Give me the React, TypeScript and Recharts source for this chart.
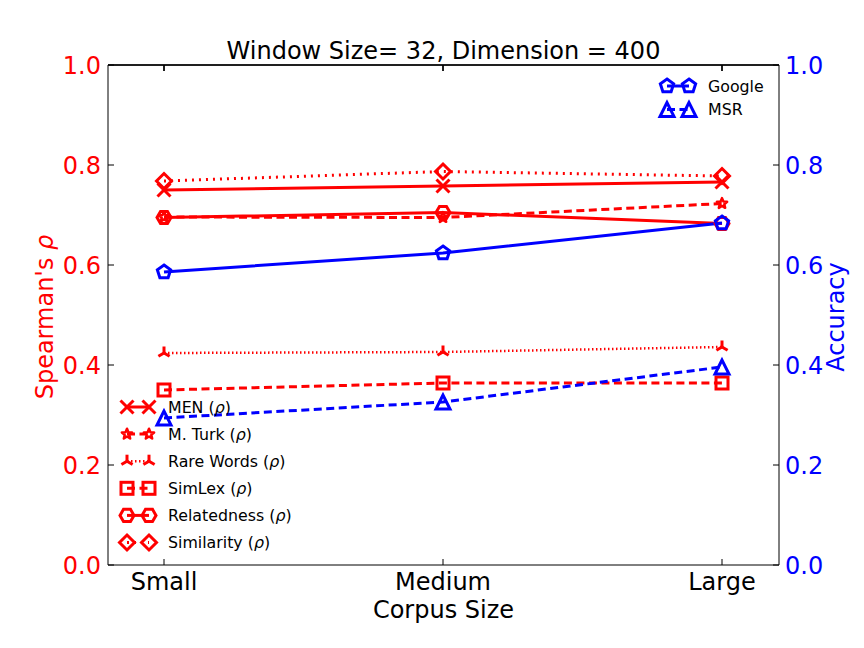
import React from 'react';
import { LineChart, Line, XAxis, YAxis, ReferenceLine } from 'recharts';

const categories = ['Small', 'Medium', 'Large'];
const menValues = [0.75, 0.758, 0.766];
const mturkValues = [0.696, 0.695, 0.723];
const rareWordsValues = [0.424, 0.426, 0.436];
const simlexValues = [0.35, 0.364, 0.364];
const relatednessValues = [0.695, 0.705, 0.683];
const similarityValues = [0.768, 0.787, 0.778];
const googleValues = [0.586, 0.624, 0.684];
const msrValues = [0.294, 0.326, 0.396];
const leftTicks = [0, 0.2, 0.4, 0.6, 0.8, 1.0];
const rightTicks = [0, 0.2, 0.4, 0.6, 0.8, 1.0];
const Y_MAX = 1.0;
const TOP_TICK_LEN = 0.012;

const RED = '#ff0000';
const BLUE = '#0000ff';
const FONT = "'DejaVu Sans', sans-serif";

// layout constants (pixels)
const W = 864;
const H = 648;
const LEFT_W = 108;
const RIGHT_W = 85;
const TOP = 65;
const PAD_L = 56;
const PAD_R = 57;

type MarkerType = 'x' | 'star' | 'tri' | 'square' | 'hexagon' | 'diamond' | 'pentagon' | 'triangle';

interface Series {
  key: string;
  name: string;
  values: number[];
  color: string;
  axis: 'left' | 'right';
  dash?: string;
  width: number;
  marker: MarkerType;
  rho: boolean;
}

const series: Series[] = [
  { key: 'men', name: 'MEN', values: menValues, color: RED, axis: 'left', width: 3, marker: 'x', rho: true },
  { key: 'mturk', name: 'M. Turk', values: mturkValues, color: RED, axis: 'left', dash: '8 4.5', width: 3, marker: 'star', rho: true },
  { key: 'rare', name: 'Rare Words', values: rareWordsValues, color: RED, axis: 'left', dash: '1.5 2.5', width: 2.5, marker: 'tri', rho: true },
  { key: 'simlex', name: 'SimLex', values: simlexValues, color: RED, axis: 'left', dash: '8 4.5', width: 3, marker: 'square', rho: true },
  { key: 'related', name: 'Relatedness', values: relatednessValues, color: RED, axis: 'left', width: 3, marker: 'hexagon', rho: true },
  { key: 'similar', name: 'Similarity', values: similarityValues, color: RED, axis: 'left', dash: '2 5', width: 3, marker: 'diamond', rho: true },
  { key: 'google', name: 'Google', values: googleValues, color: BLUE, axis: 'right', width: 3, marker: 'pentagon', rho: false },
  { key: 'msr', name: 'MSR', values: msrValues, color: BLUE, axis: 'right', dash: '8 4.5', width: 3, marker: 'triangle', rho: false },
];

const data = categories.map((name, i) => {
  const row: Record<string, number | string> = { name };
  series.forEach((s) => {
    row[s.key] = s.values[i];
  });
  return row;
});

function polygon(cx: number, cy: number, r: number, n: number, startDeg: number): string {
  const pts: string[] = [];
  for (let k = 0; k < n; k++) {
    const a = ((startDeg + (360 / n) * k) * Math.PI) / 180;
    pts.push(`${cx + r * Math.cos(a)},${cy + r * Math.sin(a)}`);
  }
  return pts.join(' ');
}

function starPoints(cx: number, cy: number, ro: number, ri: number): string {
  const pts: string[] = [];
  for (let k = 0; k < 10; k++) {
    const r = k % 2 === 0 ? ro : ri;
    const a = ((-90 + 36 * k) * Math.PI) / 180;
    pts.push(`${cx + r * Math.cos(a)},${cy + r * Math.sin(a)}`);
  }
  return pts.join(' ');
}

function Marker({ type, cx, cy, color }: { type: MarkerType; cx: number; cy: number; color: string }) {
  const common = { fill: 'none', stroke: color, strokeWidth: 3, strokeLinejoin: 'miter' as const };
  switch (type) {
    case 'x':
      return (
        <g>
          <line x1={cx - 6.5} y1={cy - 6.5} x2={cx + 6.5} y2={cy + 6.5} stroke={color} strokeWidth={3} />
          <line x1={cx - 6.5} y1={cy + 6.5} x2={cx + 6.5} y2={cy - 6.5} stroke={color} strokeWidth={3} />
        </g>
      );
    case 'star':
      return <polygon points={starPoints(cx, cy, 5.4, 2.4)} fill="none" stroke={color} strokeWidth={2.5} strokeLinejoin="round" />;
    case 'tri':
      return (
        <g>
          <line x1={cx} y1={cy} x2={cx} y2={cy - 6.5} stroke={color} strokeWidth={3} />
          <line x1={cx} y1={cy} x2={cx - 5.6} y2={cy + 3.25} stroke={color} strokeWidth={3} />
          <line x1={cx} y1={cy} x2={cx + 5.6} y2={cy + 3.25} stroke={color} strokeWidth={3} />
        </g>
      );
    case 'square':
      return <rect x={cx - 6} y={cy - 6} width={12} height={12} {...common} />;
    case 'hexagon':
      return <polygon points={polygon(cx, cy, 7, 6, 0)} {...common} />;
    case 'diamond':
      return <polygon points={polygon(cx, cy, 7.5, 4, -90)} {...common} />;
    case 'pentagon':
      return <polygon points={polygon(cx, cy, 7, 5, -90)} {...common} />;
    case 'triangle':
      return <polygon points={`${cx},${cy - 7} ${cx - 7},${cy + 7} ${cx + 7},${cy + 7}`} {...common} />;
    default:
      return null;
  }
}

const LeftTick = (props: any) => {
  const { x, y, payload } = props;
  return (
    <g>
      <line x1={x} y1={y} x2={x + 6} y2={y} stroke="#000" strokeWidth={1} />
      <text x={x - 7} y={y} dy="0.36em" textAnchor="end" fill={RED} fontSize={24} fontFamily={FONT}>
        {Number(payload.value).toFixed(1)}
      </text>
    </g>
  );
};

const RightTick = (props: any) => {
  const { x, y, payload } = props;
  return (
    <g>
      <line x1={x} y1={y} x2={x - 6} y2={y} stroke="#000" strokeWidth={1} />
      <text x={x + 6} y={y} dy="0.36em" textAnchor="start" fill={BLUE} fontSize={24} fontFamily={FONT}>
        {Number(payload.value).toFixed(1)}
      </text>
    </g>
  );
};

const BottomTick = (props: any) => {
  const { x, y, payload } = props;
  return (
    <g>
      <line x1={x} y1={y} x2={x} y2={y - 6} stroke="#000" strokeWidth={1} />
      <text x={x} y={y + 25} textAnchor="middle" fill="#000" fontSize={24} fontFamily={FONT}>
        {payload.value}
      </text>
    </g>
  );
};

const TopTick = (props: any) => {
  const { x, y } = props;
  return <line x1={x} y1={y} x2={x} y2={y + 6} stroke="#000" strokeWidth={1} />;
};

const LeftLabel = (props: any) => {
  const { x, y, width, height } = props.viewBox;
  const cx = x + width / 2 - 9;
  const cy = y + height / 2 + 2;
  return (
    <text x={cx} y={cy} transform={`rotate(-90 ${cx} ${cy})`} textAnchor="middle" dy="0.35em" fill={RED} fontSize={24} fontFamily={FONT}>
      Spearman's <tspan fontStyle="italic">ρ</tspan>
    </text>
  );
};

const RightLabel = (props: any) => {
  const { x, y, width, height } = props.viewBox;
  const cx = x + width / 2 + 14;
  const cy = y + height / 2 + 2;
  return (
    <text x={cx} y={cy} transform={`rotate(-90 ${cx} ${cy})`} textAnchor="middle" dy="0.35em" fill={BLUE} fontSize={24} fontFamily={FONT}>
      Accuracy
    </text>
  );
};

const BottomLabel = (props: any) => {
  const { x, y, width } = props.viewBox;
  return (
    <text x={x + width / 2} y={y + 53} textAnchor="middle" fill="#000" fontSize={24} fontFamily={FONT}>
      Corpus Size
    </text>
  );
};

const TitleLabel = (props: any) => {
  const { x, y, width, height } = props.viewBox;
  return (
    <text x={x + width / 2} y={y + height - 6} textAnchor="middle" fill="#000" fontSize={24} fontFamily={FONT}>
      Window Size= 32, Dimension = 400
    </text>
  );
};

function LegendItem({ s, x, y }: { s: Series; x: number; y: number }) {
  return (
    <g>
      <line x1={x} y1={y} x2={x + 22} y2={y} stroke={s.color} strokeWidth={s.width} strokeDasharray={s.dash} />
      <Marker type={s.marker} cx={x} cy={y} color={s.color} />
      <Marker type={s.marker} cx={x + 22} cy={y} color={s.color} />
      <text x={x + 41} y={y} dy="0.36em" fill="#000" fontSize={15.8} fontFamily={FONT}>
        {s.name}
        {s.rho ? (
          <>
            {' ('}
            <tspan fontStyle="italic">ρ</tspan>
            {')'}
          </>
        ) : null}
      </text>
    </g>
  );
}

const Overlay = () => {
  const leftSeries = series.filter((s) => s.axis === 'left');
  const rightSeries = series.filter((s) => s.axis === 'right');
  const plotLeft = LEFT_W;
  const plotRight = W - RIGHT_W;
  const step = (plotRight - PAD_R - (plotLeft + PAD_L)) / (categories.length - 1);
  return (
    <svg width={W} height={H} style={{ position: 'absolute', left: 0, top: 0, pointerEvents: 'none' }}>
      <line x1={plotLeft} y1={TOP} x2={plotRight} y2={TOP} stroke="#000" strokeWidth={1} />
      {categories.map((c, i) => (
        <line key={c} x1={plotLeft + PAD_L + i * step} y1={TOP} x2={plotLeft + PAD_L + i * step} y2={TOP + 6} stroke="#000" strokeWidth={1} />
      ))}
      {leftSeries.map((s, i) => (
        <LegendItem key={s.key} s={s} x={127} y={407 + i * 27.1} />
      ))}
      {rightSeries.map((s, i) => (
        <LegendItem key={s.key} s={s} x={667} y={86 + i * 23.5} />
      ))}
    </svg>
  );
};

export default function App() {
  return (
    <div style={{ position: 'absolute', left: 0, top: 0, width: W, height: H, background: '#fff' }}>
      <LineChart width={W} height={H} data={data} margin={{ top: TOP - 20, right: 0, bottom: 0, left: 0 }}>
        <XAxis
          dataKey="name"
          type="category"
          scale="point"
          padding={{ left: PAD_L, right: PAD_R }}
          height={83}
          tickSize={0}
          tickMargin={0}
          tickLine={false}
          interval={0}
          axisLine={{ stroke: '#000', strokeWidth: 1 }}
          tick={<BottomTick />}
          label={{ content: BottomLabel }}
        />
        <XAxis
          xAxisId="top"
          orientation="top"
          dataKey="name"
          type="category"
          scale="point"
          padding={{ left: PAD_L, right: PAD_R }}
          height={20}
          tickSize={0}
          tickMargin={0}
          tickLine={false}
          interval={0}
          axisLine={{ stroke: '#000', strokeWidth: 1 }}
          tick={<TopTick />}
          label={{ content: TitleLabel }}
        />
        <YAxis
          yAxisId="left"
          orientation="left"
          width={LEFT_W}
          domain={[0, 1]}
          ticks={leftTicks}
          tickSize={0}
          tickMargin={0}
          tickLine={false}
          interval={0}
          axisLine={{ stroke: '#000', strokeWidth: 1 }}
          tick={<LeftTick />}
          label={{ content: LeftLabel }}
        />
        <YAxis
          yAxisId="right"
          orientation="right"
          width={RIGHT_W}
          domain={[0, 1]}
          ticks={rightTicks}
          tickSize={0}
          tickMargin={0}
          tickLine={false}
          interval={0}
          axisLine={{ stroke: '#000', strokeWidth: 1 }}
          tick={<RightTick />}
          label={{ content: RightLabel }}
        />
        <ReferenceLine yAxisId="left" y={Y_MAX} stroke="#000" strokeWidth={1} ifOverflow="visible" />
        {categories.map((c) => (
          <ReferenceLine
            key={`tt-${c}`}
            yAxisId="left"
            ifOverflow="visible"
            segment={[
              { x: c, y: Y_MAX },
              { x: c, y: Y_MAX - TOP_TICK_LEN },
            ]}
            stroke="#000"
            strokeWidth={1}
          />
        ))}
        {series.map((s) => (
          <Line
            key={s.key}
            yAxisId={s.axis}
            dataKey={s.key}
            name={s.name}
            type="linear"
            stroke={s.color}
            strokeWidth={s.width}
            strokeDasharray={s.dash}
            isAnimationActive={false}
            activeDot={false}
            dot={(p: any) => (
              <g key={`${s.key}-${p.index}`}>
                <Marker type={s.marker} cx={p.cx} cy={p.cy} color={s.color} />
              </g>
            )}
          />
        ))}
      </LineChart>
      <Overlay />
    </div>
  );
}
